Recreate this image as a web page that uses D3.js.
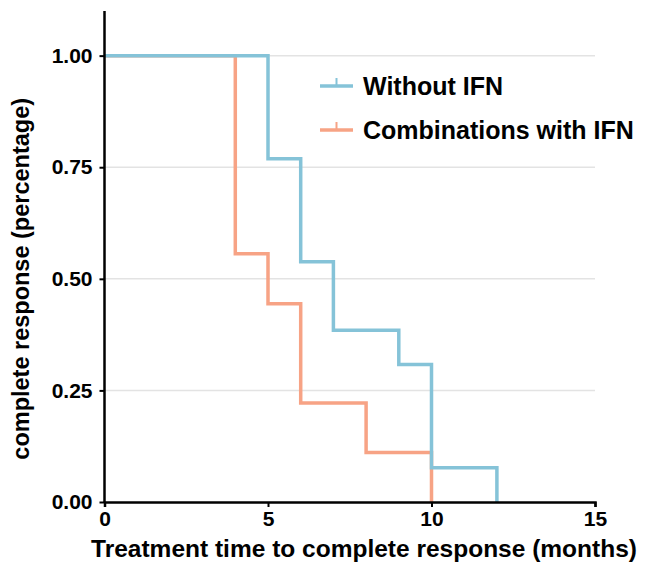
<!DOCTYPE html>
<html>
<head>
<meta charset="utf-8">
<script src="https://cdn.jsdelivr.net/npm/d3@7"></script>
<style>
  body { margin: 0; background: #fff; }
  text { font-family: "Liberation Sans", Arial, sans-serif; font-weight: bold; }
</style>
</head>
<body>
<script>
const w = 647
const h = 562
const m = { top: 11, right: 52, bottom: 60, left: 104.5 }

// step times (months) and survival after each step
const withoutTimes = [0, 5, 6, 7, 9, 10, 12]
const withoutVals = [1, 0.769, 0.538, 0.385, 0.308, 0.077, 0]
const withTimes = [0, 4, 5, 6, 8, 10]
const withVals = [1, 0.556, 0.444, 0.222, 0.111, 0]
const seriesNames = ['Without IFN', 'Combinations with IFN']
const colors = ['#85c3d8', '#f7a385']
const xTicks = [0, 5, 10, 15]
const yTicks = [0, 0.25, 0.5, 0.75, 1]

const svg = d3.select('body').append('svg').attr('width', w).attr('height', h)

const x = d3.scaleLinear().domain([0, 15]).range([m.left, w - m.right])
const y = d3.scaleLinear().domain([0, 1.1]).range([h - m.bottom, m.top])

// grid
svg.append('g').selectAll('line').data(yTicks.filter(d => d > 0)).enter().append('line')
  .attr('x1', x(0)).attr('x2', x(15))
  .attr('y1', d => y(d)).attr('y2', d => y(d))
  .attr('stroke', '#e3e3e3').attr('stroke-width', 1.5)

const series = [
  { times: withoutTimes, vals: withoutVals },
  { times: withTimes, vals: withVals }
]

const line = d3.line().x(d => x(d[0])).y(d => y(d[1])).curve(d3.curveStepAfter)

// draw orange first so blue sits on top at shared segments
series.slice().reverse().forEach((s, j) => {
  const i = series.length - 1 - j
  const pts = s.times.map((t, k) => [t, s.vals[k]])
  svg.append('path').datum(pts)
    .attr('d', line)
    .attr('fill', 'none')
    .attr('stroke', colors[i])
    .attr('stroke-width', 3.5)
})

// axes
const xAxis = svg.append('g').attr('transform', 'translate(0,' + y(0) + ')')
  .call(d3.axisBottom(x).tickValues(xTicks).tickSize(5).tickPadding(4))
const yAxis = svg.append('g').attr('transform', 'translate(' + x(0) + ',0)')
  .call(d3.axisLeft(y).tickValues(yTicks).tickSize(5).tickPadding(7).tickFormat(d3.format('.2f')))

;[xAxis, yAxis].forEach(a => {
  a.attr('font-size', null).attr('font-family', null)
  a.select('.domain').attr('stroke', '#000').attr('stroke-width', 2.5)
  a.selectAll('.tick line').attr('stroke', '#000').attr('stroke-width', 2)
  a.selectAll('.tick text').attr('fill', '#000').style('font-size', '21px')
})
yAxis.select('.domain').attr('d', 'M0,' + y(1.1) + 'V' + y(0))

// legend
const lg = svg.append('g').selectAll('g').data(seriesNames).enter().append('g')
  .attr('transform', (d, i) => 'translate(320,' + (86 + i * 44) + ')')
lg.append('line').attr('x1', 0).attr('x2', 33).attr('y1', 0).attr('y2', 0)
  .attr('stroke', (d, i) => colors[i]).attr('stroke-width', 3.5)
lg.append('line').attr('x1', 16.5).attr('x2', 16.5).attr('y1', 0).attr('y2', -8)
  .attr('stroke', (d, i) => colors[i]).attr('stroke-width', 2)
lg.append('text').attr('x', 43).attr('y', 9).style('font-size', '25px').text(d => d)

// titles
svg.append('text').attr('x', 364).attr('y', 557).attr('text-anchor', 'middle')
  .style('font-size', '24.5px').text('Treatment time to complete response (months)')
svg.append('text').attr('transform', 'translate(29,' + y(0.5) + ') rotate(-90)')
  .attr('text-anchor', 'middle').style('font-size', '23.5px')
  .text('complete response (percentage)')
</script>
</body>
</html>
